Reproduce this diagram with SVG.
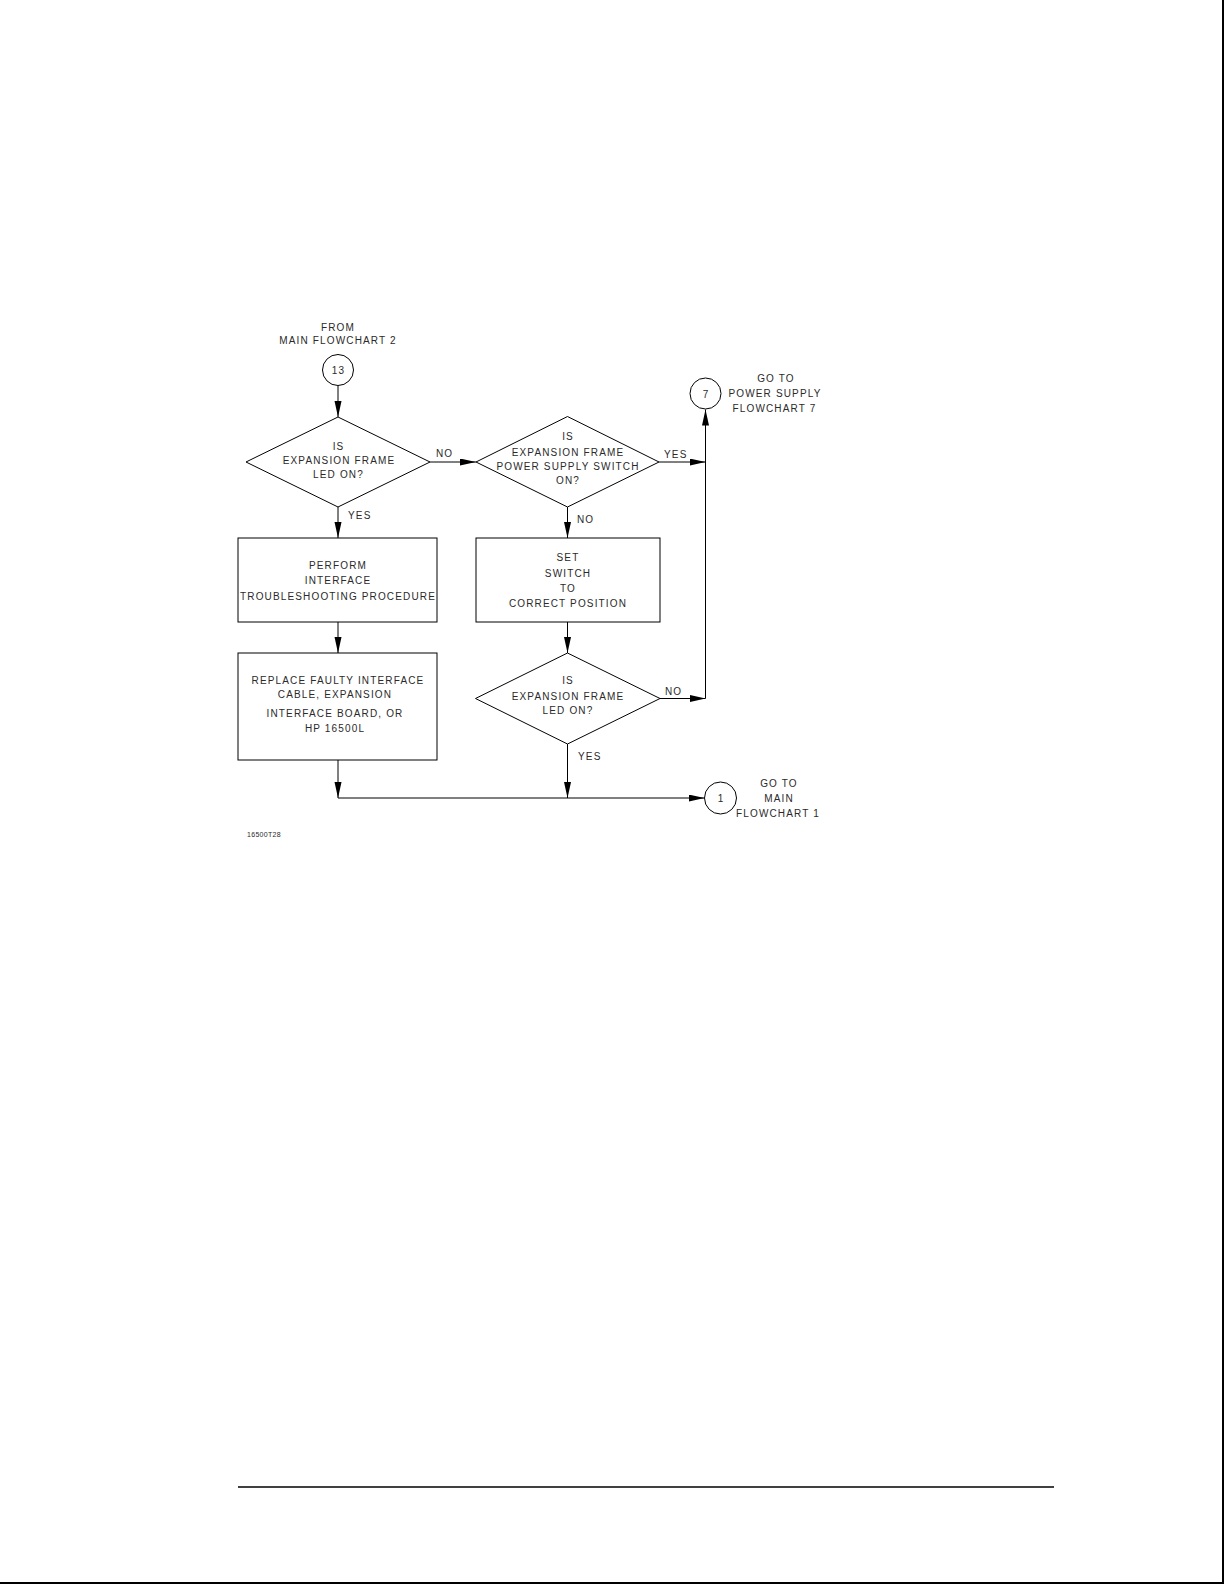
<svg xmlns="http://www.w3.org/2000/svg" width="1224" height="1584" viewBox="0 0 1224 1584">
<style>
text{font-family:"Liberation Sans",Arial,sans-serif;font-size:10px;letter-spacing:1.15px;fill:#2a2a2a;text-anchor:middle}
.lbl{text-anchor:start}
.shape{fill:#fff;stroke:#000;stroke-width:1}
.conn{fill:none;stroke:#000;stroke-width:1}
.small{font-size:7px;letter-spacing:0.3px;text-anchor:start}
</style>
<defs>
<marker id="arr" markerUnits="userSpaceOnUse" markerWidth="16" markerHeight="8" refX="16" refY="3.5" orient="auto">
<path d="M0,0 L16,3.5 L0,7 z" fill="#000"/>
</marker>
</defs>
<rect width="1224" height="1584" fill="#fff"/>
<line x1="1223" y1="0" x2="1223" y2="1584" stroke="#000" stroke-width="2"/>
<line x1="0" y1="1583" x2="1224" y2="1583" stroke="#000" stroke-width="2"/>
<line x1="238" y1="1487" x2="1054" y2="1487" stroke="#000" stroke-width="1.5"/>

<g id="connectors">
<line class="conn" x1="338" y1="385.5" x2="338" y2="417" marker-end="url(#arr)"/>
<line class="conn" x1="430" y1="462" x2="476" y2="462" marker-end="url(#arr)"/>
<line class="conn" x1="659" y1="462" x2="705.5" y2="462" marker-end="url(#arr)"/>
<line class="conn" x1="705.5" y1="698.5" x2="705.5" y2="409.5" marker-end="url(#arr)"/>
<line class="conn" x1="338" y1="507" x2="338" y2="538" marker-end="url(#arr)"/>
<line class="conn" x1="567.5" y1="507" x2="567.5" y2="538" marker-end="url(#arr)"/>
<line class="conn" x1="338" y1="622" x2="338" y2="653" marker-end="url(#arr)"/>
<line class="conn" x1="567.5" y1="622" x2="567.5" y2="653" marker-end="url(#arr)"/>
<line class="conn" x1="660" y1="698.5" x2="705.5" y2="698.5" marker-end="url(#arr)"/>
<line class="conn" x1="338" y1="760" x2="338" y2="798" marker-end="url(#arr)"/>
<line class="conn" x1="567.5" y1="744" x2="567.5" y2="798" marker-end="url(#arr)"/>
<line class="conn" x1="338" y1="798" x2="704.5" y2="798" marker-end="url(#arr)"/>
<text class="lbl" x="436" y="457">NO</text>
<text class="lbl" x="664" y="458">YES</text>
<text class="lbl" x="348" y="519">YES</text>
<text class="lbl" x="577" y="523">NO</text>
<text class="lbl" x="665" y="695">NO</text>
<text class="lbl" x="578" y="759.5">YES</text>
</g>

<g id="start13">
<text x="338" y="331">FROM</text>
<text x="338" y="344">MAIN FLOWCHART 2</text>
<circle class="shape" cx="338" cy="370" r="15.5"/>
<text x="338.5" y="374">13</text>
</g>

<g id="decision1">
<polygon class="shape" points="338,417 430,462 338,507 246,462"/>
<text x="338.5" y="450">IS</text>
<text x="339" y="463.5">EXPANSION FRAME</text>
<text x="338.5" y="477.5">LED ON?</text>
</g>

<g id="decision2">
<polygon class="shape" points="567.5,416.5 659,462 567.5,507 476,462"/>
<text x="568" y="439.5">IS</text>
<text x="568" y="456">EXPANSION FRAME</text>
<text x="568" y="470">POWER SUPPLY SWITCH</text>
<text x="568" y="484">ON?</text>
</g>

<g id="goto7">
<circle class="shape" cx="705.5" cy="393.5" r="15.5"/>
<text x="706" y="397.5">7</text>
<text x="776" y="382">GO TO</text>
<text x="775" y="396.5">POWER SUPPLY</text>
<text x="774.5" y="411.5">FLOWCHART 7</text>
</g>

<g id="box-perform">
<rect class="shape" x="238" y="538" width="199" height="84"/>
<text x="338" y="568.5">PERFORM</text>
<text x="338" y="584">INTERFACE</text>
<text x="338" y="599.5">TROUBLESHOOTING PROCEDURE</text>
</g>

<g id="box-replace">
<rect class="shape" x="238" y="653" width="199" height="107"/>
<text x="338" y="683.5">REPLACE FAULTY INTERFACE</text>
<text x="335" y="698">CABLE, EXPANSION</text>
<text x="335" y="717">INTERFACE BOARD, OR</text>
<text x="335" y="732">HP 16500L</text>
</g>

<g id="box-set">
<rect class="shape" x="476" y="538" width="184" height="84"/>
<text x="568" y="561">SET</text>
<text x="568" y="576.5">SWITCH</text>
<text x="568" y="591.5">TO</text>
<text x="568" y="607">CORRECT POSITION</text>
</g>

<g id="decision3">
<polygon class="shape" points="567.5,653 660,698.5 567.5,744 475.5,698.5"/>
<text x="568" y="683.5">IS</text>
<text x="568" y="700">EXPANSION FRAME</text>
<text x="568" y="714">LED ON?</text>
</g>

<g id="goto1">
<circle class="shape" cx="720.5" cy="798" r="16"/>
<text x="721" y="802">1</text>
<text x="779" y="786.5">GO TO</text>
<text x="779" y="801.5">MAIN</text>
<text x="778" y="817">FLOWCHART 1</text>
</g>

<g id="figure-id">
<text class="small" x="247" y="837">16500T28</text>
</g>
</svg>
